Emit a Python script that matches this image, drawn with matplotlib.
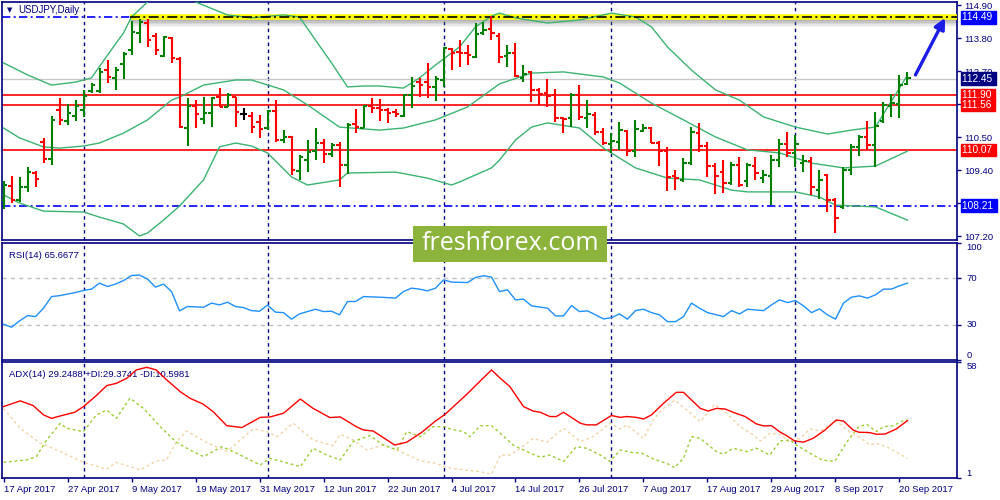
import matplotlib
matplotlib.use("Agg")
import matplotlib.pyplot as plt
import matplotlib.transforms as mtransforms
from matplotlib.patches import Rectangle

plt.rcParams["font.family"] = ["Liberation Sans", "DejaVu Sans"]

NAVY = "#000080"

# ---------- data (bar index 0 = 17 Apr 2017) ----------
bar_open = [108.40, 108.87, 108.40, 108.83, 109.30, 110.33, 109.77, 111.40, 111.03, 111.20,
            111.40, 112.03, 112.03, 112.73, 112.47, 112.93, 113.40, 113.97, 114.30, 113.87,
            113.20, 113.80, 113.10, 110.80, 111.53, 111.10, 111.30, 111.83, 111.50, 111.83,
            111.27, 111.20, 111.00, 110.80, 111.37, 110.40, 110.50, 109.37, 109.73, 110.03,
            110.30, 109.93, 110.23, 109.57, 110.93, 110.80, 111.53, 111.47, 111.40, 111.33,
            111.20, 111.90, 112.33, 112.33, 112.17, 112.40, 113.43, 113.33, 113.30, 113.17,
            113.97, 114.10, 113.87, 113.20, 113.30, 112.47, 112.67, 112.07, 111.97, 111.90,
            111.13, 111.13, 111.90, 111.13, 111.23, 110.67, 110.27, 110.33, 110.70, 110.03,
            110.70, 110.80, 110.30, 110.03, 109.20, 109.07, 109.63, 110.63, 110.20, 109.53,
            109.33, 108.97, 109.57, 109.03, 109.53, 109.13, 109.20, 109.73, 110.27, 109.97,
            109.63, 109.70, 108.73, 109.23, 108.40, 108.17, 109.40, 110.17, 110.50, 110.23,
            111.03, 111.53, 111.60, 112.27]
bar_high = [109.03, 109.20, 109.17, 109.50, 109.37, 110.47, 111.20, 111.80, 111.60, 111.73,
            112.07, 112.30, 112.80, 113.07, 112.83, 113.33, 114.37, 114.43, 114.43, 113.97,
            113.87, 113.83, 113.17, 111.80, 111.73, 111.83, 111.83, 112.13, 111.97, 111.83,
            111.47, 111.33, 111.23, 111.40, 111.73, 110.73, 110.53, 109.90, 110.40, 110.80,
            110.43, 110.30, 110.33, 110.97, 111.43, 111.57, 111.80, 111.77, 111.47, 111.43,
            111.93, 112.50, 112.47, 112.97, 112.53, 113.50, 113.47, 113.73, 113.57, 114.30,
            114.33, 114.53, 113.97, 113.57, 113.63, 112.90, 112.70, 112.13, 112.43, 112.10,
            111.17, 111.97, 112.23, 111.73, 111.33, 110.80, 110.63, 111.00, 110.73, 111.07,
            110.93, 110.83, 110.37, 110.17, 109.40, 109.80, 110.83, 110.97, 110.33, 109.63,
            109.73, 109.67, 109.83, 109.63, 109.83, 109.40, 109.90, 110.43, 110.67, 110.57,
            109.90, 109.83, 109.40, 109.27, 108.47, 109.50, 110.27, 110.57, 111.03, 111.33,
            111.67, 111.93, 112.57, 112.67]
bar_low = [108.10, 108.30, 108.33, 108.67, 108.83, 109.63, 109.57, 110.90, 110.90, 111.03,
           111.17, 111.97, 111.97, 112.30, 112.07, 112.43, 113.23, 113.63, 113.50, 113.23,
           113.17, 112.97, 110.80, 110.20, 110.80, 110.93, 110.83, 111.50, 111.50, 110.83,
           111.07, 110.63, 110.47, 110.73, 110.33, 110.30, 109.23, 109.07, 109.33, 109.73,
           109.63, 109.83, 108.83, 109.27, 110.63, 110.80, 111.30, 111.03, 110.97, 111.17,
           111.17, 111.47, 111.83, 111.80, 111.70, 112.17, 112.73, 112.83, 112.90, 113.13,
           113.90, 113.73, 112.97, 112.83, 112.50, 112.33, 111.67, 111.57, 111.50, 111.00,
           110.63, 110.83, 111.07, 110.80, 110.57, 110.23, 109.97, 110.07, 109.87, 109.83,
           110.67, 110.30, 109.53, 108.70, 108.73, 109.00, 109.57, 110.00, 109.17, 108.60,
           108.63, 108.90, 108.83, 108.83, 109.07, 108.97, 108.23, 109.50, 109.83, 109.50,
           109.33, 108.57, 108.43, 108.00, 107.30, 108.10, 109.23, 109.87, 110.07, 109.50,
           110.97, 111.17, 111.13, 112.23]
bar_close = [108.90, 108.40, 108.83, 109.33, 109.10, 109.77, 111.07, 111.07, 111.30, 111.53,
             111.87, 112.23, 112.67, 112.50, 112.73, 113.27, 114.00, 114.33, 113.73, 113.40,
             113.83, 113.13, 110.83, 111.53, 111.27, 111.30, 111.80, 111.50, 111.90, 111.33,
             111.27, 110.83, 110.77, 111.37, 110.40, 110.50, 109.40, 109.83, 110.00, 110.30,
             109.93, 110.23, 109.57, 110.90, 110.83, 111.53, 111.47, 111.40, 111.30, 111.27,
             111.90, 112.20, 112.23, 112.17, 112.43, 113.47, 113.30, 113.30, 113.23, 113.93,
             114.07, 113.97, 113.17, 113.30, 112.53, 112.60, 112.07, 111.93, 111.87, 111.13,
             111.10, 111.90, 111.17, 111.27, 110.67, 110.30, 110.37, 110.73, 110.03, 110.77,
             110.80, 110.30, 110.03, 109.17, 109.13, 109.63, 110.67, 110.20, 109.53, 109.20,
             108.97, 109.57, 108.90, 109.57, 109.30, 109.23, 109.73, 110.27, 109.97, 110.27,
             109.70, 108.83, 109.07, 108.40, 107.80, 109.40, 110.17, 110.50, 110.23, 110.87,
             111.57, 111.63, 112.23, 112.47]

# Bollinger bands (20, 2)
bbu_i = [0, 3, 6, 9, 11, 13, 15, 16, 18, 20, 23, 24, 28, 31, 35, 37, 39, 41, 43, 45, 47, 50, 52, 54,
         57, 59, 61, 62, 64, 68, 72, 76, 79, 81, 83, 86, 89, 92, 95, 99, 103, 106, 108, 109, 110, 111, 112, 113]
bbu_v = [112.97, 112.57, 112.23, 112.33, 112.47, 113.23, 113.97, 114.50, 115.00, 115.33, 115.23, 115.00,
         114.57, 114.47, 114.57, 114.50, 113.73, 112.97, 112.17, 112.20, 112.20, 112.13, 112.47, 112.90,
         113.50, 114.17, 114.53, 114.63, 114.47, 114.30, 114.40, 114.63, 114.50, 114.17, 113.50, 112.73,
         112.07, 111.73, 111.17, 110.83, 110.60, 110.73, 110.80, 110.83, 111.27, 111.70, 112.13, 112.57]
bbm_i = [0, 2, 5, 7, 10, 12, 15, 18, 21, 22, 25, 29, 31, 35, 38, 42, 47, 50, 54, 58, 62, 66, 70, 75,
         77, 81, 85, 89, 93, 97, 101, 105, 109, 113]
bbm_v = [110.80, 110.47, 110.17, 110.13, 110.20, 110.30, 110.63, 111.07, 111.73, 111.83, 112.23, 112.40,
         112.40, 112.07, 111.57, 110.83, 110.73, 110.80, 111.07, 111.50, 112.27, 112.63, 112.67, 112.50,
         112.30, 111.63, 111.07, 110.50, 110.07, 109.97, 109.63, 109.47, 109.53, 110.03]
bbl_i = [0, 2, 5, 10, 12, 15, 17, 18, 20, 22, 25, 27, 29, 31, 33, 36, 38, 42, 43, 49, 53, 56, 57, 61,
         62, 64, 66, 68, 72, 75, 79, 83, 87, 91, 93, 99, 102, 104, 109, 113]
bbl_v = [108.57, 108.30, 108.03, 108.00, 107.83, 107.60, 107.20, 107.30, 107.73, 108.20, 109.07, 110.17,
         110.30, 110.20, 109.97, 109.17, 108.90, 109.07, 109.30, 109.33, 109.13, 108.90, 109.00, 109.47,
         109.73, 110.40, 110.83, 110.97, 110.80, 110.13, 109.47, 109.13, 109.07, 108.73, 108.67, 108.67,
         108.50, 108.23, 108.17, 107.73]

# RSI(14)
rsi_i = [0, 1, 2, 3, 4, 5, 6, 7, 9, 10, 11, 12, 13, 14, 15, 16, 17, 18, 19, 20, 21, 22, 23,
         25, 26, 27, 28, 29, 30, 31, 32, 33, 34, 35, 36, 37, 39, 40, 41, 42, 43, 44, 45, 47,
         49, 50, 51, 52, 53, 54, 55, 56, 58, 59, 60, 61, 62, 63, 64, 65, 66,
         68, 69, 70, 71, 72, 73, 74, 75, 76, 77, 78, 79, 80, 81, 82, 83, 84, 85, 86, 87, 88,
         90, 91, 92, 93, 95, 96, 97, 98, 99, 100, 101, 102, 103, 104, 105, 106, 107, 108,
         109, 110, 111, 112, 113]
rsi_v = [30.6, 28.0, 33.4, 38.0, 37.1, 44.3, 54.2, 55.0, 57.7, 59.4, 60.6, 65.7, 62.8, 64.9, 67.9,
         72.2, 72.6, 69.1, 62.3, 64.9, 58.5, 42.0, 45.7, 45.1, 48.6, 47.1, 49.4, 45.7, 44.8, 42.2,
         41.7, 46.9, 40.9, 40.5, 34.9, 39.4, 43.4, 41.4, 41.7, 38.6, 50.0, 50.0, 54.2, 53.7, 52.9,
         58.5, 61.4, 60.6, 59.1, 61.4, 68.5, 66.6, 66.2, 70.5, 72.0, 70.9, 58.5, 60.0, 51.4, 52.0,
         46.3, 44.3, 37.7, 37.7, 46.5, 41.4, 42.0, 38.6, 35.1, 36.2, 39.4, 34.9, 42.2, 43.4, 40.5,
         38.6, 32.8, 32.8, 37.1, 48.6, 44.3, 40.5, 37.1, 42.2, 39.4, 43.4, 42.2, 47.1, 51.4, 49.1,
         50.8, 46.3, 40.5, 43.7, 38.6, 34.9, 48.6, 53.7, 54.8, 52.9, 55.7, 60.6, 60.6, 63.4, 65.7]

# ADX(14), +DI, -DI
adx_i = [0, 2.1, 3.7, 5.0, 6.0, 7.1, 8.9, 10, 11.6, 12.9, 14.1, 15.4, 16.6, 17.9, 19.1, 20.4,
         22.1, 23.3, 25, 26.2, 27.9, 29.8, 32.1, 33.3, 35, 37.1, 38.7, 40.8, 42.1, 44.1, 45, 46.2,
         48.9, 50.4, 52.3, 53.9, 55.2, 57.9, 59.6, 61, 62.1, 63.3, 65, 66.2, 67.1, 68.3, 69.1, 70,
         72.1, 72.9, 74.1, 76, 77.1, 77.9, 79.1, 80, 81, 82.5, 84.1, 85, 87.1, 88.1, 89.1, 90.2,
         91.2, 92.7, 94.1, 95, 96, 97.1, 97.9, 98.9, 100, 101.2, 102.7, 104.1, 105, 106.2, 106.9,
         108.3, 109.1, 110.2, 111.6, 113]
adx_v = [36.1, 38.9, 36.6, 32.0, 30.3, 31.5, 33.3, 36.1, 41.5, 46.4, 47.5, 50.0, 54.1, 55.4, 54.1,
         49.2, 43.4, 40.2, 37.2, 33.6, 26.7, 25.8, 30.8, 31.0, 32.8, 39.8, 35.2, 30.7, 31.0, 26.2,
         24.6, 24.1, 17.2, 18.6, 23.5, 28.7, 32.3, 42.1, 48.7, 54.1, 50.0, 45.9, 36.1, 33.9, 33.3,
         31.2, 31.2, 33.3, 27.9, 27.1, 27.1, 31.7, 30.8, 31.2, 30.8, 30.0, 32.0, 37.7, 43.1, 43.1,
         35.2, 33.9, 35.2, 34.9, 33.3, 31.2, 27.6, 26.6, 26.7, 23.5, 21.8, 19.2, 18.6, 20.5, 24.6,
         29.5, 29.0, 24.6, 23.5, 23.3, 22.5, 22.6, 25.1, 29.2]
pdi_i = [0, 1.6, 2.9, 4.1, 5.4, 7.1, 7.9, 10, 11.6, 12.9, 14.1, 15.8, 17.5, 19.6, 21.6, 23.3,
         25, 27.3, 28.7, 32.1, 33.3, 37.1, 38.7, 40.4, 42.1, 43.7, 45.8, 47.5, 49.2, 50.4, 52.1,
         53.7, 55.2, 55.8, 57.5, 58.3, 59.6, 61, 62.1, 63.7, 65.4, 67.1, 68.3, 70, 71.6, 72.9,
         74.6, 75.8, 77.1, 78.5, 79.8, 81.2, 82.9, 83.9, 85, 86, 87.1, 89.1, 90, 91.2, 92.9, 94.1,
         95.8, 97.1, 98.3, 99.1, 100.8, 102.3, 103.9, 105.4, 106.9, 107.9, 109.1, 110, 111.2,
         112.5, 113]
pdi_v = [8.7, 9.4, 9.9, 11.5, 19.7, 27.9, 25.4, 23.8, 32.0, 34.4, 30.3, 40.2, 35.2, 26.2, 18.6,
         14.8, 11.5, 16.4, 14.0, 7.4, 10.7, 6.6, 15.6, 12.3, 9.9, 18.9, 21.8, 17.2, 14.8, 23.8,
         21.3, 26.2, 26.2, 25.1, 23.8, 21.3, 26.7, 26.7, 23.0, 17.2, 14.0, 11.2, 12.3, 9.1, 16.4,
         15.6, 12.3, 9.1, 14.8, 13.6, 13.2, 10.4, 8.2, 6.1, 10.7, 21.3, 20.5, 14.0, 12.7, 15.6,
         14.0, 15.6, 12.3, 19.2, 19.7, 17.2, 13.2, 9.9, 9.1, 18.6, 26.2, 27.4, 23.8, 26.2, 26.7,
         29.2, 29.4]
mdi_i = [0, 2.1, 4.6, 7.1, 10, 12.9, 14.1, 17.1, 19.1, 20.4, 21.6, 22.9, 25, 27.9, 29.6, 31.2,
         32.9, 34.2, 36.2, 38.7, 41.2, 42.1, 43.7, 45.4, 47.5, 49.6, 52.1, 54.1, 55.4, 57.5, 59.6,
         61, 62.1, 63.3, 64.6, 66.2, 67.9, 70, 72.1, 73.7, 75.8, 77.1, 77.9, 80, 81.2, 82.5, 83.9,
         85.4, 87.1, 88.9, 90.4, 92.1, 93.7, 94.6, 95.8, 97.1, 98.3, 99.6, 100.8, 102.1, 104.1,
         105.8, 106.9, 108.3, 109.1, 110.8, 113]
mdi_v = [35.2, 25.4, 18.1, 14.0, 8.7, 5.4, 8.7, 5.0, 9.4, 9.9, 18.9, 24.1, 19.2, 14.0, 19.7, 25.1,
         23.8, 21.3, 27.9, 19.7, 16.9, 22.5, 19.7, 14.8, 17.2, 14.0, 9.4, 8.2, 6.1, 5.0, 4.1, 2.8,
         12.3, 12.3, 15.6, 20.5, 18.6, 25.4, 18.9, 21.3, 27.9, 25.1, 27.1, 20.5, 29.5, 35.2, 39.3,
         34.4, 28.7, 37.2, 32.8, 26.2, 22.2, 19.2, 23.0, 22.5, 18.6, 20.5, 25.1, 24.1, 29.0, 23.5,
         21.3, 17.2, 18.1, 15.6, 10.6]

date_ticks = [0, 8, 16, 24, 32, 40, 48, 56, 64, 72, 80, 88, 96, 104, 112]
date_labels = ["17 Apr 2017", "27 Apr 2017", "9 May 2017", "19 May 2017", "31 May 2017",
               "12 Jun 2017", "22 Jun 2017", "4 Jul 2017", "14 Jul 2017", "26 Jul 2017",
               "7 Aug 2017", "17 Aug 2017", "29 Aug 2017", "8 Sep 2017", "20 Sep 2017"]
month_starts = [10, 33, 55, 76, 99]

price_ticks = [114.90, 113.80, 112.70, 111.60, 110.50, 109.40, 108.30, 107.20]
hidden_ticks = [111.60, 108.30]      # fully covered by price tags on the original
red_levels = [111.90, 111.56, 110.07]
blue_levels = [114.49, 108.21]
last_price = 112.45
resist_start = 15.8          # highlighted 114.49 resistance starts at the 9 May high
arrow_from = (114.0, 112.57)
arrow_to = (117.7, 114.47)

# ---------- layout ----------
XL = (-0.19, 119.19)
fig = plt.figure(figsize=(10, 5), dpi=100)
fig.patch.set_facecolor("white")
ax = fig.add_axes([0.002, 0.52, 0.955, 0.476])
ax_rsi = fig.add_axes([0.002, 0.28, 0.955, 0.234])
ax_adx = fig.add_axes([0.002, 0.044, 0.955, 0.232])

for a in (ax, ax_rsi, ax_adx):
    a.set_xlim(*XL)
    for s in a.spines.values():
        s.set_color(NAVY)
        s.set_linewidth(1.2)
    a.yaxis.tick_right()
    a.tick_params(axis="y", colors=NAVY, length=3, width=1, labelsize=6.8, pad=2)
    a.tick_params(axis="x", colors=NAVY, length=3, width=1)
    for m in month_starts:
        a.axvline(m, color=NAVY, lw=1, ls=(0, (2.5, 2.5)), zorder=1)

ax.set_xticks([])
ax_rsi.set_xticks([])

# ---------- main price panel ----------
ax.set_ylim(107.067, 115.0)
ax.set_yticks(price_ticks)
ax.set_yticklabels(["" if p in hidden_ticks else f"{p:.2f}" for p in price_ticks])

ax.axhline(last_price, color="#c8c8c8", lw=1, zorder=1)
for lv in red_levels:
    ax.axhline(lv, color="#ff0000", lw=1.2, zorder=2)
for lv in blue_levels:
    ax.axhline(lv, color="#0000ff", lw=1.2, ls=(0, (5, 2, 1.2, 2)), zorder=2)

# shaded highlight of the 114.49 resistance
for k, al in enumerate([0.4, 0.3, 0.2, 0.12, 0.06]):
    ax.hlines(blue_levels[0] - 0.06 - k * 0.05, resist_start, XL[1], color="#808080",
              lw=2.2, alpha=al, zorder=2)
ax.hlines(blue_levels[0], resist_start, XL[1], color="#ffff00", lw=4, zorder=3)
ax.hlines(blue_levels[0], resist_start, XL[1], color="black", lw=1.2,
          ls=(0, (6, 2, 1.2, 2)), zorder=4)

ax.plot(bbu_i, bbu_v, color="#3cb371", lw=1, zorder=3)
ax.plot(bbm_i, bbm_v, color="#3cb371", lw=1, zorder=3)
ax.plot(bbl_i, bbl_v, color="#3cb371", lw=1, zorder=3)

idx = list(range(len(bar_open)))
cols = []
for o, c in zip(bar_open, bar_close):
    cols.append("#008000" if c > o else ("#ff0000" if c < o else "black"))
ax.vlines(idx, bar_low, bar_high, colors=cols, lw=1.5, zorder=5)
ax.hlines(bar_open, [i - 0.4 for i in idx], idx, colors=cols, lw=1.5, zorder=5)
ax.hlines(bar_close, idx, [i + 0.4 for i in idx], colors=cols, lw=1.5, zorder=5)

ax.annotate("", xy=arrow_to, xytext=arrow_from, annotation_clip=False, zorder=6,
            arrowprops=dict(arrowstyle="-|>", color="#1c1ce8", lw=2.4,
                            mutation_scale=16, shrinkA=0, shrinkB=0))

# price tags on the right axis
tr = mtransforms.blended_transform_factory(ax.transAxes, ax.transData)
tags = [(blue_levels[0], "#0000ff"), (last_price, "#000080"), (red_levels[0], "#ff0000"),
        (red_levels[1], "#ff0000"), (red_levels[2], "#ff0000"), (blue_levels[1], "#0000ff")]
for v, col in tags:
    ax.text(1.005, v, f"{v:.2f} ", transform=tr, ha="left", va="center", fontsize=7.3,
            color="white", clip_on=False, zorder=10,
            bbox=dict(boxstyle="square,pad=0.12", fc=col, ec=col))

fig.text(0.007, 1 - 10 / 500, "\u25bc", fontsize=5, color=NAVY, va="center",
         family=["DejaVu Sans"])
fig.text(0.018, 1 - 10 / 500, "USDJPY,Daily", fontsize=7, color=NAVY, va="center")

# ---------- RSI panel ----------
ax_rsi.set_ylim(0, 100)
ax_rsi.axhline(70, color="#c0c0c0", lw=1, ls=(0, (3, 3)), zorder=1)
ax_rsi.axhline(30, color="#c0c0c0", lw=1, ls=(0, (3, 3)), zorder=1)
ax_rsi.plot(rsi_i, rsi_v, color="#1e90ff", lw=1, zorder=3)
ax_rsi.set_yticks([0, 30, 70, 100])
ax_rsi.set_yticklabels([])
tr_r = mtransforms.blended_transform_factory(ax_rsi.transAxes, ax_rsi.transData)
for v, va in [(100, "top"), (70, "center"), (30, "center"), (0, "bottom")]:
    ax_rsi.text(1.01, v, str(v), transform=tr_r, ha="left", va=va, fontsize=6.8,
                color=NAVY, clip_on=False)
ax_rsi.text(0.007, 0.93, "RSI(14) 65.6677", transform=ax_rsi.transAxes, fontsize=6.8,
            color=NAVY, va="top")

# ---------- ADX panel ----------
ax_adx.set_ylim(1, 58)
ax_adx.plot(mdi_i, mdi_v, color="#f3d3a5", lw=1, ls=(0, (2, 2)), zorder=2)
ax_adx.plot(pdi_i, pdi_v, color="#9acd32", lw=1, ls=(0, (2, 2)), zorder=3)
ax_adx.plot(adx_i, adx_v, color="#ff0000", lw=1, zorder=4)
ax_adx.set_yticks([1, 58])
ax_adx.set_yticklabels([])
tr_a = mtransforms.blended_transform_factory(ax_adx.transAxes, ax_adx.transData)
ax_adx.text(1.01, 58, "58", transform=tr_a, ha="left", va="top", fontsize=6.8,
            color=NAVY, clip_on=False)
ax_adx.text(1.01, 1, "1", transform=tr_a, ha="left", va="bottom", fontsize=6.8,
            color=NAVY, clip_on=False)
ax_adx.text(0.007, 0.93, "ADX(14) 29.2488 +DI:29.3741 -DI:10.5981",
            transform=ax_adx.transAxes, fontsize=6.8, color=NAVY, va="top")
ax_adx.set_xticks(date_ticks)
ax_adx.set_xticklabels(date_labels, ha="left", fontsize=6.8, color=NAVY)
ax_adx.tick_params(axis="x", pad=2)

# ---------- watermark ----------
fig.patches.append(Rectangle((0.413, 1 - 262 / 500), 0.194, 36 / 500,
                             transform=fig.transFigure, fc="#8cb43c", ec="none", zorder=5))
fig.text(0.510, 1 - 244 / 500, "freshforex.com", ha="center", va="center", color="white",
         fontsize=18, family=["Open Sans", "DejaVu Sans"], zorder=6)

fig.savefig("out.png", dpi=100)
